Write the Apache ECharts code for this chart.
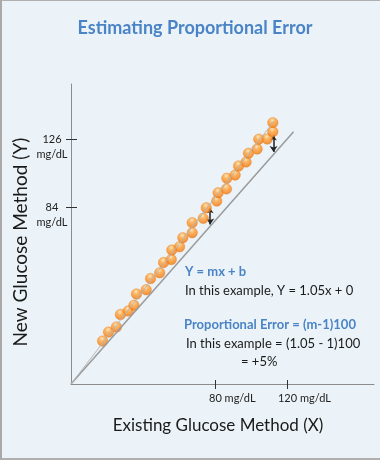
<!DOCTYPE html>
<html>
<head>
<meta charset="utf-8">
<script src="https://cdn.jsdelivr.net/npm/echarts@6/dist/echarts.min.js"></script>
<style>
html,body{margin:0;padding:0;background:#ebf3f8;}
#wrap{position:relative;width:380px;height:460px;overflow:hidden;}
#chart{position:absolute;left:0;top:0;width:380px;height:460px;}
#frame{position:absolute;left:0;top:0;width:380px;height:460px;box-sizing:border-box;border-left:2px solid #a9a9a9;border-top:1px solid #b0b0b0;border-bottom:2px solid #b0b0b0;pointer-events:none;}
</style>
</head>
<body>
<div id="wrap"><div id="chart"></div><div id="frame"></div></div>
<script>
// Existing method (x) vs new method (y) (schematic units)
const existingX = [17.5,20.8,25.2,27.4,31.7,34.9,36.3,41.7,44.1,49.2,51.3,55.6,55.9,60.2,62.0,67.2,67.2,73.3,75.0,80.8,81.6,86.2,86.4,91.0,92.9,97.1,98.4,103.2,104.1,108.8,111.9,111.9];
const newY =      [21.0,25.4,27.9,34.0,35.7,38.5,44.0,46.1,51.6,54.4,59.4,60.9,65.5,67.1,71.5,74.0,78.9,81.0,86.2,89.5,93.5,95.4,100.6,102.2,106.6,108.6,112.8,114.9,119.7,119.8,123.4,127.8];
// reference lines
const identityLineX = [0, 123.4];
const identityLineY = [0, 123.4];
const fitLineX = [0, 112.5];
const fitLineY = [0, 128.5];
// error arrows (x, top, bottom)
const arrowX = [77.2, 112.3];
const arrowTop = [86.0, 121.5];
const arrowBottom = [78.0, 113.5];
// ticks
const xTickValues = [80, 120];
const xTickLabels = ['80 mg/dL', '120 mg/dL'];
const yTickValues = [86.2, 119.8];
const yTickLabels = ['84', '126'];
const yTickUnit = 'mg/dL';
const titleText = 'Estimating Proportional Error';
const xAxisName = 'Existing Glucose Method (X)';
const yAxisName = 'New Glucose Method (Y)';
const notes = ['Y = mx + b', 'In this example, Y = 1.05x + 0', 'Proportional Error = (m-1)100', 'In this example = (1.05 - 1)100', '= +5%'];

const FONT = 'Lato';
const chart = echarts.init(document.getElementById('chart'), null, {renderer:'canvas'});

const dotColor = {
  type:'radial', x:0.45, y:0.28, r:0.8,
  colorStops:[{offset:0,color:'#ffe3b5'},{offset:0.3,color:'#ffa53c'},{offset:0.7,color:'#f7841a'},{offset:1,color:'#e0660a'}]
};

const xBase = {type:'value', min:0, max:168, splitLine:{show:false}, position:'bottom'};
const yBase = {type:'value', min:0, max:146.7, splitLine:{show:false}, position:'left'};

chart.setOption({
  backgroundColor:'#ebf3f8',
  animation:false,
  grid:{left:71, right:6, top:84, bottom:76, containLabel:false},
  xAxis:[
    Object.assign({}, xBase, {
      axisLine:{show:true, lineStyle:{color:'#8c8c8c', width:1}},
      axisTick:{show:true, customValues:xTickValues, length:5, lineStyle:{color:'#333', width:1}},
      axisLabel:{show:true, customValues:xTickValues, margin:9, fontFamily:FONT, fontSize:11, color:'#222',
        align:'center', padding:[0,0,0,34],
        formatter:(v)=>xTickLabels[xTickValues.indexOf(v)]}
    }),
    Object.assign({}, xBase, {
      axisLine:{show:false},
      axisTick:{show:true, inside:true, customValues:xTickValues, length:4, lineStyle:{color:'#333', width:1}},
      axisLabel:{show:false}
    })
  ],
  yAxis:[
    Object.assign({}, yBase, {
      axisLine:{show:true, lineStyle:{color:'#8c8c8c', width:1}},
      axisTick:{show:true, customValues:yTickValues, length:5, lineStyle:{color:'#333', width:1}},
      axisLabel:{show:true, customValues:yTickValues, margin:19, fontFamily:FONT, fontSize:11, color:'#222',
        align:'center', verticalAlign:'middle', lineHeight:15,
        formatter:(v)=>' \n' + yTickLabels[yTickValues.indexOf(v)] + '\n' + yTickUnit}
    }),
    Object.assign({}, yBase, {
      axisLine:{show:false},
      axisTick:{show:true, inside:true, customValues:yTickValues, length:6, lineStyle:{color:'#333', width:1}},
      axisLabel:{show:false}
    })
  ],
  series:[
    {type:'line', data:identityLineX.map((x,i)=>[x, identityLineY[i]]), showSymbol:false, silent:true,
      lineStyle:{color:'#9a9a9a', width:1.5}},
    {type:'line', data:fitLineX.map((x,i)=>[x, fitLineY[i]]), showSymbol:false, silent:true,
      lineStyle:{color:'#b5b5b5', width:1}},
    {type:'lines', coordinateSystem:'cartesian2d', silent:true,
      symbol:['arrow','arrow'], symbolSize:[5,6],
      lineStyle:{color:'#222', width:1.5, opacity:1},
      data:arrowX.map((x,i)=>({coords:[[x, arrowTop[i]],[x, arrowBottom[i]]]}))},
    {type:'scatter', data:existingX.map((x,i)=>[x, newY[i]]), symbolSize:10.5, silent:true,
      itemStyle:{color:dotColor, borderColor:'#ec8020', borderWidth:0.5}}
  ],
  graphic:[
    {type:'text', x:195, y:28, style:{text:titleText, fontFamily:FONT, fontWeight:'bold', fontSize:18, fill:'#4a84c6', align:'center', verticalAlign:'middle'}},
    {type:'text', x:218, y:426, style:{text:xAxisName, fontFamily:FONT, fontSize:17, fill:'#1a1a1a', align:'center', verticalAlign:'middle'}},
    {type:'text', x:21, y:242, rotation:Math.PI/2, style:{text:yAxisName, fontFamily:FONT, fontSize:19, fill:'#1a1a1a', align:'center', verticalAlign:'middle'}},
    {type:'text', x:185, y:272, style:{text:notes[0], fontFamily:FONT, fontWeight:'bold', fontSize:13, fill:'#4a84c6', verticalAlign:'middle'}},
    {type:'text', x:185, y:291, style:{text:notes[1], fontFamily:FONT, fontSize:13, fill:'#1a1a1a', verticalAlign:'middle'}},
    {type:'text', x:184, y:325, style:{text:notes[2], fontFamily:FONT, fontWeight:'bold', fontSize:13, fill:'#4a84c6', verticalAlign:'middle'}},
    {type:'text', x:186, y:344, style:{text:notes[3], fontFamily:FONT, fontSize:13, fill:'#1a1a1a', verticalAlign:'middle'}},
    {type:'text', x:241, y:362, style:{text:notes[4], fontFamily:FONT, fontSize:13, fill:'#1a1a1a', verticalAlign:'middle'}}
  ]
});
</script>
</body>
</html>
